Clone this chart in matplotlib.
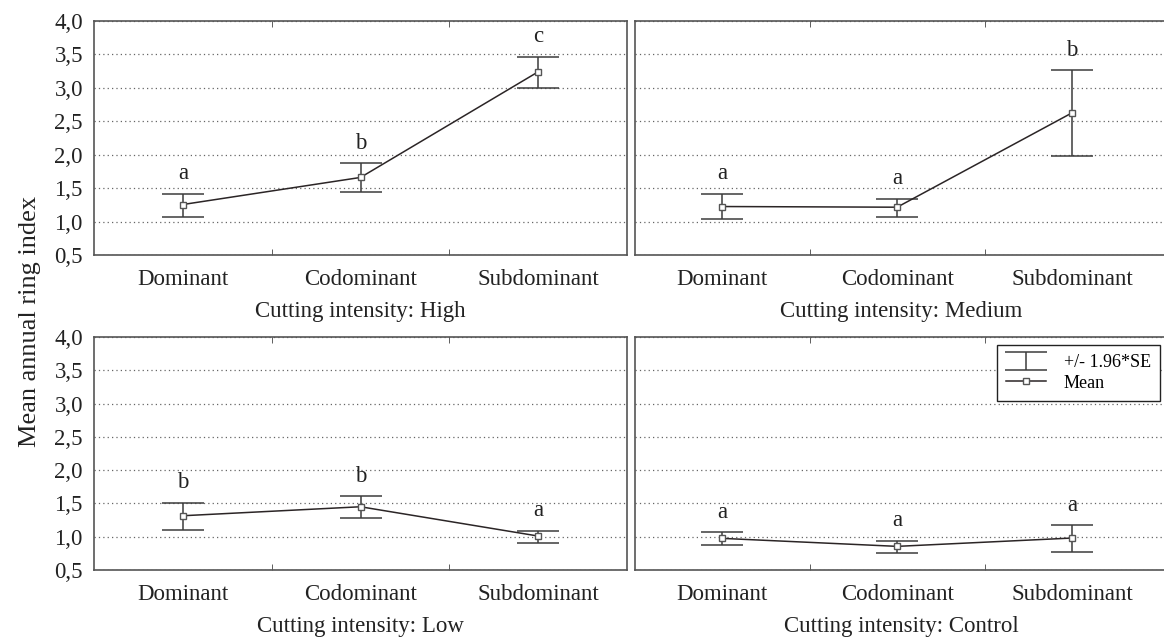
import matplotlib.pyplot as plt

plt.rcParams['font.family'] = ['Liberation Serif', 'DejaVu Serif']

categories = ['Dominant', 'Codominant', 'Subdominant']
panel_names = ['High', 'Medium', 'Low', 'Control']

high_mean = [1.255, 1.66, 3.24]
high_upper = [1.415, 1.87, 3.46]
high_lower = [1.075, 1.435, 3.00]
high_letters = ['a', 'b', 'c']

medium_mean = [1.225, 1.215, 2.625]
medium_upper = [1.41, 1.34, 3.26]
medium_lower = [1.035, 1.07, 1.98]
medium_letters = ['a', 'a', 'b']

low_mean = [1.315, 1.45, 1.01]
low_upper = [1.51, 1.605, 1.09]
low_lower = [1.10, 1.275, 0.91]
low_letters = ['b', 'b', 'a']

control_mean = [0.975, 0.855, 0.98]
control_upper = [1.065, 0.94, 1.17]
control_lower = [0.875, 0.75, 0.77]
control_letters = ['a', 'a', 'a']

yticks = [0.5, 1.0, 1.5, 2.0, 2.5, 3.0, 3.5, 4.0]
ytick_labels = ['0,5', '1,0', '1,5', '2,0', '2,5', '3,0', '3,5', '4,0']

panels = [
    (high_mean, high_upper, high_lower, high_letters),
    (medium_mean, medium_upper, medium_lower, medium_letters),
    (low_mean, low_upper, low_lower, low_letters),
    (control_mean, control_upper, control_lower, control_letters),
]

W, H = 1164, 641
fig = plt.figure(figsize=(W / 100, H / 100), dpi=100)

# axes boxes in pixels: (left, top, right, bottom)
boxes = [(94, 21, 627, 255), (635, 21, 1168, 255),
         (94, 337, 627, 570), (635, 337, 1168, 570)]

line_col = '#2b2526'
err_col = '#3c3c3c'
fs = 16.5

for i, (box, data, name) in enumerate(zip(boxes, panels, panel_names)):
    l, t, r, b = box
    ax = fig.add_axes([l / W, (H - b) / H, (r - l) / W, (b - t) / H])
    mean, upper, lower, letters = data
    x = list(range(len(categories)))
    yerr = [[m - lo for m, lo in zip(mean, lower)],
            [u - m for m, u in zip(mean, upper)]]
    eb = ax.errorbar(x, mean, yerr=yerr, fmt='none', ecolor=err_col,
                     elinewidth=1.1, capsize=15, capthick=1.1, zorder=3,
                     label='+/- 1.96*SE')
    mn, = ax.plot(x, mean, color=line_col, lw=1.1, marker='s', markersize=5,
                  markerfacecolor='white', markeredgecolor='#555555',
                  markeredgewidth=1, zorder=4, label='Mean')
    for xi, u, let in zip(x, upper, letters):
        ax.annotate(let, (xi, u), xytext=(0, 7), textcoords='offset points',
                    ha='center', va='bottom', fontsize=fs, color='#222222')

    ax.set_ylim(0.5, 4.0)
    if i % 2 == 0:
        ax.set_xlim(-0.5, 2.5)
    else:
        ax.set_xlim(-0.5, 2.55)
    ax.set_yticks(yticks)
    if i % 2 == 0:
        ax.set_yticklabels(ytick_labels, fontsize=fs, color='#222222')
    else:
        ax.set_yticklabels([])
    ax.tick_params(axis='y', length=0, pad=8)
    ax.set_xticks(x)
    ax.set_xticklabels(categories, fontsize=fs, color='#222222')
    ax.tick_params(axis='x', length=0, pad=10)
    ax.set_xticks([0.5, 1.5], minor=True)
    ax.tick_params(axis='x', which='minor', direction='in', length=4,
                   top=True, bottom=True, color='#444444')
    ax.set_xlabel('Cutting intensity: ' + name, fontsize=fs,
                  color='#222222', labelpad=8)
    ax.grid(axis='y', linestyle=(0, (1, 2.5)), color='#666666', lw=0.9)
    ax.set_axisbelow(True)
    for sp in ax.spines.values():
        sp.set_color('#555555')
        sp.set_linewidth(1.2)

    if name == 'Control':
        leg = ax.legend(handles=[eb, mn], loc='upper right', fontsize=13,
                        frameon=True, fancybox=False, edgecolor='#222222',
                        framealpha=1, borderaxespad=0.45, handlelength=2.2,
                        borderpad=0.5, labelspacing=0.2, handletextpad=1.0)
        leg.get_frame().set_linewidth(1.0)

fig.text(30 / W, (H - 321) / H, 'Mean annual ring index', rotation=90,
         ha='center', va='center', fontsize=19, color='#222222')

fig.savefig('out.png', dpi=100)
